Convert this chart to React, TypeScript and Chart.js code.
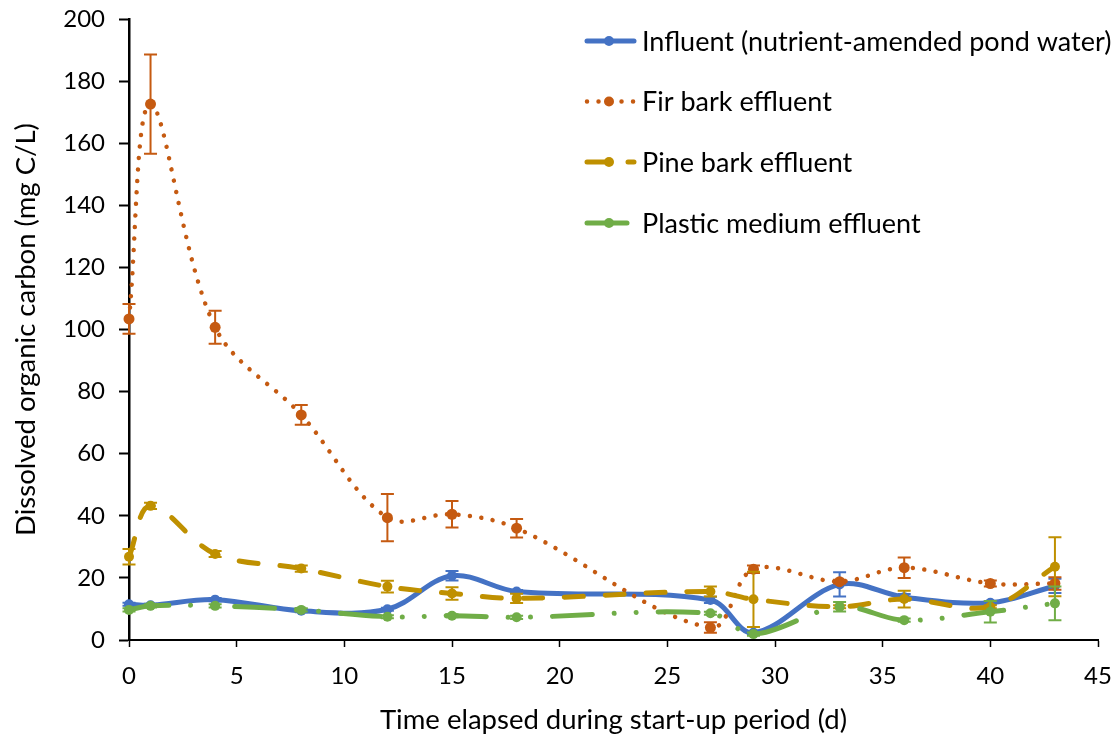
import React, { useEffect, useRef } from "react";
import { Chart, registerables } from "chart.js";

Chart.register(...registerables);

// ---- Data ----
const days = [0, 1, 4, 8, 12, 15, 18, 27, 29, 33, 36, 40, 43];

const influent = [11.5, 11.2, 13, 9.4, 9.9, 20.7, 15.6, 12.9, 2.3, 17.9, 13.8, 12, 17.4];
const influentErr = [0.5, 0.5, 0.5, 0.5, 0.5, 1.5, 0.5, 1, 0.5, 3.9, 1, 0.5, 2.3];

const firBark = [103.4, 172.6, 100.7, 72.5, 39.4, 40.5, 36, 4, 22.8, 18.8, 23.3, 18.2, 18.2];
const firBarkErr = [4.8, 16, 5.3, 3.2, 7.6, 4.3, 3, 1.7, 1.2, 0.6, 3.3, 1, 2];

const pineBark = [26.8, 43.2, 27.7, 23, 17.2, 15, 13.4, 15.6, 13.1, 10.7, 13.2, 10.7, 23.6];
const pineBarkErr = [2.5, 1, 1, 1, 1.9, 2, 1.5, 1.6, 8.9, 0.5, 2.7, 0.5, 9.5];

const plastic = [9.7, 11, 11, 9.7, 7.5, 7.8, 7.3, 8.6, 1.9, 10.7, 6.4, 9.1, 11.8];
const plasticErr = [0.5, 0.5, 0.5, 0.5, 0.5, 0.5, 0.5, 0.5, 0.5, 1.5, 0.5, 3.5, 5.4];

const seriesLabels = [
  "Influent (nutrient-amended pond water)",
  "Fir bark effluent",
  "Pine bark effluent",
  "Plastic medium effluent",
];

const xTitle = "Time elapsed during start-up period (d)";
const yTitle = "Dissolved organic carbon (mg C/L)";
const xMin = 0, xMax = 45, xStep = 5;
const yMin = 0, yMax = 200, yStep = 20;

const FONT = "Lato, 'Open Sans', sans-serif";
const COLORS = ["#4472C4", "#C55A11", "#BF9000", "#70AD47"];

const errorBarPlugin = {
  id: "errorBars",
  beforeDatasetDraw(chart: any, args: any) {
    const ds = chart.data.datasets[args.index];
    const errs: number[] | undefined = ds.errors;
    if (!errs) return;
    const yScale = chart.scales.y;
    const ctx = chart.ctx;
    ctx.save();
    ctx.strokeStyle = ds.borderColor;
    ctx.lineWidth = 2;
    ctx.setLineDash([]);
    ctx.lineCap = "butt";
    args.meta.data.forEach((pt: any, i: number) => {
      const v = ds.data[i].y;
      const e = errs[i];
      if (!e) return;
      const x = pt.x;
      const y1 = yScale.getPixelForValue(v + e);
      const y2 = yScale.getPixelForValue(v - e);
      ctx.beginPath();
      ctx.moveTo(x, y1);
      ctx.lineTo(x, y2);
      ctx.moveTo(x - 6.5, y1);
      ctx.lineTo(x + 6.5, y1);
      ctx.moveTo(x - 6.5, y2);
      ctx.lineTo(x + 6.5, y2);
      ctx.stroke();
    });
    ctx.restore();
  },
};

const legendPlugin = {
  id: "customLegend",
  afterDraw(chart: any) {
    const ctx = chart.ctx;
    const rows = [41, 101.5, 162, 223];
    chart.data.datasets.forEach((ds: any, i: number) => {
      const y = rows[i];
      ctx.save();
      ctx.strokeStyle = ds.borderColor;
      ctx.lineWidth = ds.borderWidth;
      ctx.lineCap = "round";
      ctx.setLineDash(ds.borderDash || []);
      ctx.beginPath();
      ctx.moveTo(587, y);
      ctx.lineTo(634, y);
      ctx.stroke();
      ctx.setLineDash([]);
      ctx.fillStyle = ds.borderColor;
      ctx.beginPath();
      ctx.arc(609, y, 5, 0, Math.PI * 2);
      ctx.fill();
      ctx.fillStyle = "#000";
      ctx.font = `27px ${FONT}`;
      ctx.textBaseline = "middle";
      ctx.textAlign = "left";
      ctx.fillText(ds.label, 642, y + 1);
      ctx.restore();
    });
  },
};

function toXY(vals: number[]) {
  return vals.map((v, i) => ({ x: days[i], y: v }));
}

export default function App() {
  const ref = useRef<HTMLCanvasElement | null>(null);

  useEffect(() => {
    if (!ref.current) return;
    const common = {
      tension: 0.35,
      pointRadius: 5,
      pointHoverRadius: 5,
      pointBorderWidth: 0,
      fill: false,
      clip: false as any,
    };
    const chart = new Chart(ref.current, {
      type: "line",
      data: {
        datasets: [
          {
            ...common,
            label: seriesLabels[0],
            data: toXY(influent),
            errors: influentErr,
            borderColor: COLORS[0],
            backgroundColor: COLORS[0],
            pointBackgroundColor: COLORS[0],
            borderWidth: 5,
            borderCapStyle: "round",
            order: 3,
          } as any,
          {
            ...common,
            label: seriesLabels[1],
            data: toXY(firBark),
            errors: firBarkErr,
            borderColor: COLORS[1],
            backgroundColor: COLORS[1],
            pointBackgroundColor: COLORS[1],
            borderWidth: 4.5,
            borderDash: [0.01, 11.5],
            borderCapStyle: "round",
            pointRadius: 5.5,
            order: 2,
          } as any,
          {
            ...common,
            label: seriesLabels[2],
            data: toXY(pineBark),
            errors: pineBarkErr,
            borderColor: COLORS[2],
            backgroundColor: COLORS[2],
            pointBackgroundColor: COLORS[2],
            borderWidth: 5,
            borderDash: [19, 22],
            borderCapStyle: "round",
            order: 1,
          } as any,
          {
            ...common,
            label: seriesLabels[3],
            data: toXY(plastic),
            errors: plasticErr,
            borderColor: COLORS[3],
            backgroundColor: COLORS[3],
            pointBackgroundColor: COLORS[3],
            borderWidth: 5,
            borderDash: [40, 22, 0.01, 22, 0.01, 22],
            borderCapStyle: "round",
            order: 0,
          } as any,
        ],
      },
      options: {
        responsive: false,
        animation: false,
        devicePixelRatio: 1,
        layout: { padding: { left: 0, top: 19, right: 22, bottom: 0 } },
        plugins: {
          legend: { display: false },
          tooltip: { enabled: false },
        },
        scales: {
          x: {
            type: "linear",
            min: xMin,
            max: xMax,
            ticks: {
              stepSize: xStep,
              color: "#000",
              font: { family: FONT, size: 24 },
              padding: 15,
              maxRotation: 0,
            },
            grid: {
              display: true,
              drawOnChartArea: false,
              drawTicks: true,
              tickLength: 7,
              tickColor: "#000",
              tickWidth: 1.5,
            },
            border: { display: true, color: "#000", width: 2 },
            title: {
              display: true,
              text: xTitle,
              color: "#000",
              font: { family: FONT, size: 27.5, lineHeight: 1.2 },
              padding: { top: 0, bottom: 3 },
            },
            afterFit(scale: any) {
              scale.height = 100;
              scale.paddingLeft = 0;
              scale.paddingRight = 0;
            },
          },
          y: {
            type: "linear",
            min: yMin,
            max: yMax,
            ticks: {
              stepSize: yStep,
              color: "#000",
              font: { family: FONT, size: 24 },
              padding: 14,
            },
            grid: {
              display: true,
              drawOnChartArea: false,
              drawTicks: true,
              tickLength: 10,
              tickColor: "#000",
              tickWidth: 2,
            },
            border: { display: true, color: "#000", width: 2.5 },
            title: {
              display: true,
              text: yTitle,
              color: "#000",
              font: { family: FONT, size: 27.5, lineHeight: 1.2 },
              padding: { top: 10, bottom: 0 },
            },
            afterFit(scale: any) {
              scale.width = 129;
              scale.paddingTop = 0;
              scale.paddingBottom = 0;
            },
          },
        },
      },
      plugins: [errorBarPlugin, legendPlugin],
    } as any);
    return () => chart.destroy();
  }, []);

  return (
    <div style={{ position: "absolute", left: 0, top: 0, width: 1120, height: 740, background: "#fff" }}>
      <canvas ref={ref} width={1120} height={740} style={{ display: "block" }} />
    </div>
  );
}
